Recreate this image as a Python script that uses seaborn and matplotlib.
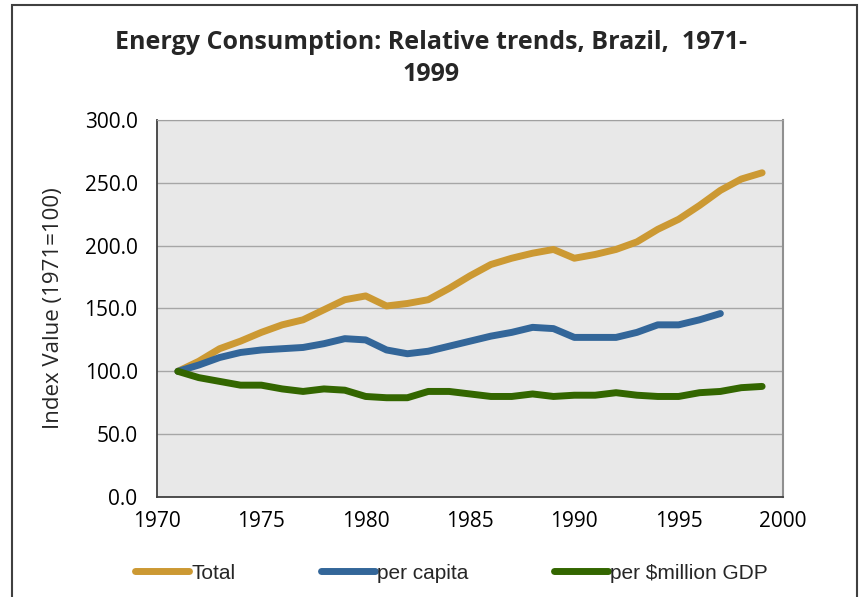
import numpy as np
import pandas as pd
import matplotlib
matplotlib.use("Agg")
import matplotlib.pyplot as plt
import seaborn as sns
from matplotlib.patches import Rectangle

years = list(range(1971, 2000))
total = [100, 108, 118, 124, 131, 137, 141, 149, 157, 160,
         152, 154, 157, 166, 176, 185, 190, 194, 197, 190,
         193, 197, 203, 213, 221, 232, 244, 253, 258]
per_capita = [100, 105, 111, 115, 117, 118, 119, 122, 126, 125,
              117, 114, 116, 120, 124, 128, 131, 135, 134, 127,
              127, 127, 131, 137, 137, 141, 146]
per_gdp = [100, 95, 92, 89, 89, 86, 84, 86, 85, 80,
           79, 79, 84, 84, 82, 80, 80, 82, 80, 81,
           81, 83, 81, 80, 80, 83, 84, 87, 88]

series_names = ["Total", "per capita", "per $million GDP"]
colors = ["#CC9933", "#336699", "#336600"]

frames = []
for name, vals in zip(series_names, [total, per_capita, per_gdp]):
    frames.append(pd.DataFrame({"Year": years[:len(vals)], "Value": vals, "Series": name}))
df = pd.concat(frames, ignore_index=True)

sns.set_style("white")
plt.rcParams["font.family"] = ["Open Sans", "DejaVu Sans"]

fig = plt.figure(figsize=(8.67, 5.97), dpi=100)
ax = fig.add_axes([0.1811, 0.1675, 0.722, 0.6315])

sns.lineplot(data=df, x="Year", y="Value", hue="Series", palette=colors,
             linewidth=5, ax=ax, legend=False, solid_capstyle="round")

ax.set_xlim(1970, 2000)
ax.set_ylim(0, 300)
ax.set_xticks(range(1970, 2001, 5))
ax.set_yticks(range(0, 301, 50))
ax.set_yticklabels([f"{v:.1f}" for v in range(0, 301, 50)])
ax.set_facecolor("#E8E8E8")
ax.grid(axis="y", color="#A6A6A6", linewidth=1)
ax.set_axisbelow(True)
ax.tick_params(axis="both", length=0, labelsize=15, colors="#000000")
ax.tick_params(axis="y", pad=14)
ax.tick_params(axis="x", pad=10)
for s in ["left", "bottom"]:
    ax.spines[s].set_color("#404040")
    ax.spines[s].set_linewidth(1.3)
ax.spines["top"].set_color("#A0A0A0")
ax.spines["right"].set_color("#909090")
ax.spines["right"].set_linewidth(1.5)

ax.set_xlabel("")
ax.set_ylabel("Index Value (1971=100)", fontsize=16, labelpad=15)

fig.text(0.497, 0.902, "Energy Consumption: Relative trends, Brazil,  1971-\n1999",
         ha="center", va="center", fontsize=18, fontweight="bold", linespacing=1.35)

handles = [plt.Line2D([], [], color=c, linewidth=5, solid_capstyle="round") for c in colors]
fig.legend(handles, series_names, loc="center left", bbox_to_anchor=(0.134, 0.04),
           ncol=3, frameon=False, handlelength=2.6, handletextpad=0.1,
           columnspacing=4.1, prop={"family": "Liberation Sans", "size": 15})

fig.add_artist(Rectangle((0.014, -0.01), 0.975, 1.002, transform=fig.transFigure,
                         fill=False, edgecolor="#404040", linewidth=1.5))

fig.savefig("out.png", dpi=100)
